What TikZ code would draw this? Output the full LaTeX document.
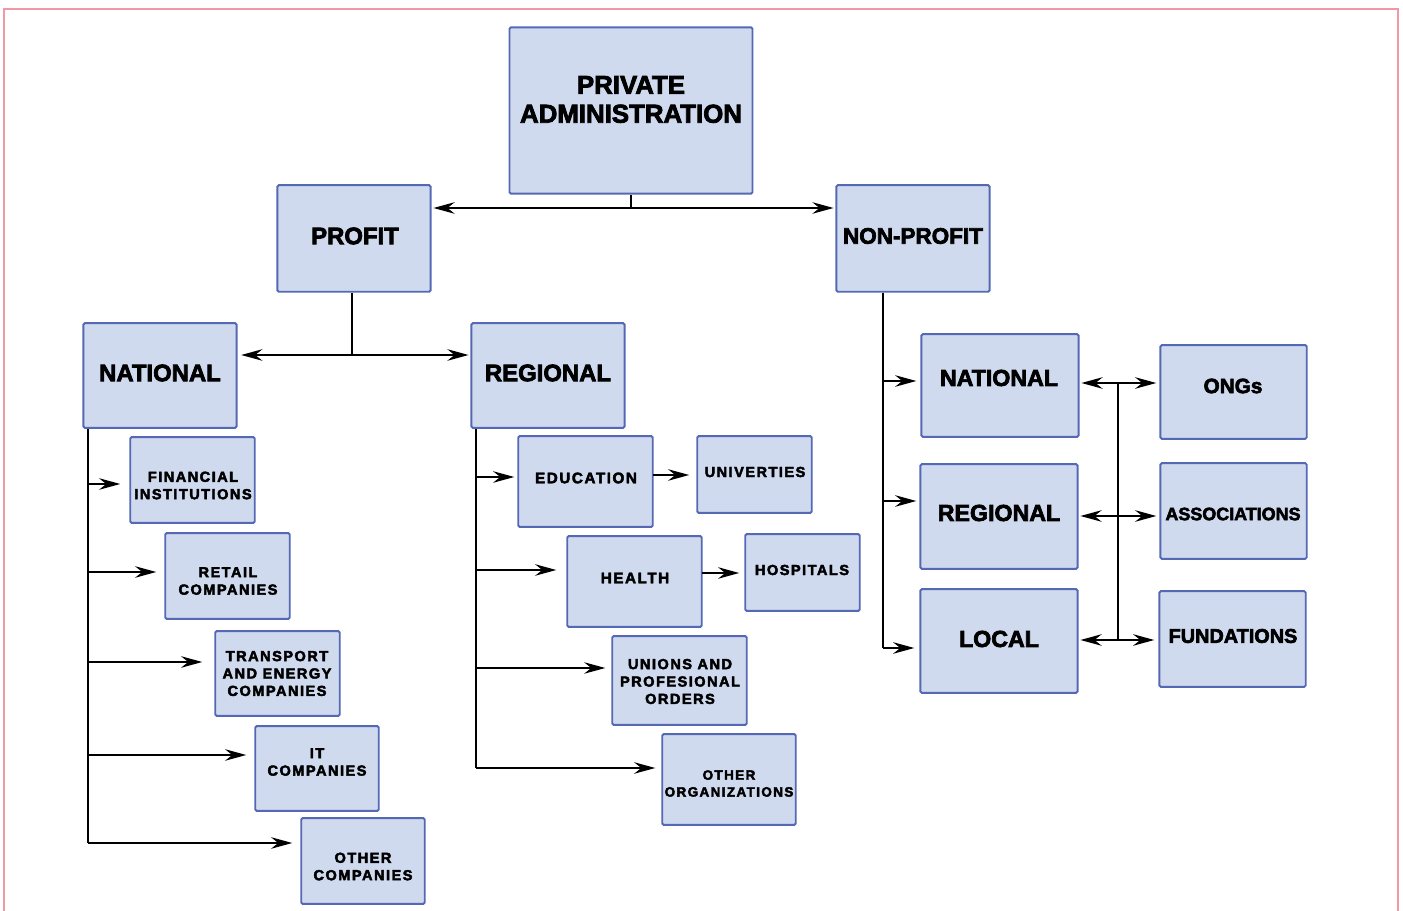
\documentclass[tikz,border=0pt]{standalone}
\usepackage{fontspec}
\setmainfont{Liberation Sans}
\newfontfamily\hv{Liberation Sans}[BoldFeatures={FakeBold=3}]
\newfontfamily\hvs{Liberation Sans}[LetterSpace=10,BoldFeatures={FakeBold=3}]
\usetikzlibrary{arrows.meta}
\definecolor{boxfill}{RGB}{207,218,238}
\definecolor{boxline}{RGB}{84,104,180}
\definecolor{framecol}{RGB}{240,152,164}
\tikzset{
  box/.style={draw=boxline, fill=boxfill, line width=1.1pt, inner sep=0pt, rounded corners=0.8pt},
  big/.style={font=\hv\bfseries\fontsize{14.7pt}{16.4pt}\selectfont, align=center, inner sep=0pt},
  mid/.style={font=\hv\bfseries\fontsize{13.2pt}{15pt}\selectfont, align=center, inner sep=0pt},
  rt/.style={font=\hv\bfseries\fontsize{10.2pt}{12pt}\selectfont, align=center, inner sep=0pt},
  sm/.style={font=\hvs\bfseries\fontsize{8.3pt}{9.9pt}\selectfont, align=center, inner sep=0pt},
  conn/.style={line width=1.5pt, black},
  tip/.tip={Stealth[length=12pt,width=6.5pt,inset=4pt]},
  arr/.style={conn, -tip},
  arrb/.style={conn, tip-tip},
}
\newcommand\bx[5]{\node[box, minimum width={(#4-#2)*0.5669pt}, minimum height={(#5-#3)*0.5669pt}] (#1) at ({(#2+#4)/2},{(#3+#5)/2}) {};}
\begin{document}
\begin{tikzpicture}[x=0.02cm,y=-0.02cm]
\useasboundingbox (0,0) rectangle (1403,911);
\draw[framecol, line width=1.2pt] (4,911) -- (4,9) -- (1398,9) -- (1398,911);

% boxes
\bx{pad}{509}{27}{753}{194}
\bx{profit}{277}{185}{431}{292}
\bx{nonprofit}{836}{185}{990}{292}
\bx{pnat}{83}{323}{237}{428}
\bx{preg}{471}{323}{625}{428}
\bx{fin}{130}{437}{255}{523}
\bx{retail}{165}{533}{290}{619}
\bx{trans}{215}{631}{340}{716}
\bx{it}{255}{726}{379}{811}
\bx{oth}{301}{818}{425}{904}
\bx{edu}{518}{436}{653}{527}
\bx{uni}{697}{436}{812}{513}
\bx{health}{567}{536}{702}{627}
\bx{hosp}{745}{534}{860}{611}
\bx{unions}{612}{636}{747}{725}
\bx{othorg}{662}{734}{796}{825}
\bx{nnat}{921}{334}{1079}{437}
\bx{nreg}{920}{464}{1078}{569}
\bx{local}{920}{589}{1078}{693}
\bx{ongs}{1160}{345}{1307}{439}
\bx{assoc}{1160}{463}{1307}{559}
\bx{fund}{1159}{591}{1306}{687}

% texts
\node[big] (t-pad) at (631,99.5) {PRIVATE\\ADMINISTRATION};
\node[mid, font=\hv\bfseries\fontsize{13.6pt}{15pt}\selectfont] (t-profit) at (355,236) {PROFIT};
\node[mid, font=\hv\bfseries\fontsize{12.8pt}{15pt}\selectfont] (t-nonprofit) at (913,236) {NON-PROFIT};
\node[mid, font=\hv\bfseries\fontsize{13.6pt}{15pt}\selectfont] (t-pnat) at (160,373) {NATIONAL};
\node[mid, font=\hv\bfseries\fontsize{13.6pt}{15pt}\selectfont] (t-preg) at (548,373) {REGIONAL};
\node[mid] (t-nnat) at (999,378) {NATIONAL};
\node[mid] (t-nreg) at (999,513) {REGIONAL};
\node[mid] (t-local) at (999,639) {LOCAL};
\node[rt, font=\hv\bfseries\fontsize{11.8pt}{12pt}\selectfont] (t-ongs) at (1233,386) {ONGs};
\node[rt] (t-assoc) at (1233,514) {ASSOCIATIONS};
\node[rt, font=\hv\bfseries\fontsize{11.3pt}{12pt}\selectfont] (t-fund) at (1233,636) {FUNDATIONS};
\node[sm] (t-fin) at (193,485.5) {FINANCIAL\\INSTITUTIONS};
\node[sm] (t-retail) at (228,581) {RETAIL\\COMPANIES};
\node[sm] (t-trans) at (277,673.5) {TRANSPORT\\AND ENERGY\\COMPANIES};
\node[sm] (t-it) at (317,762) {IT\\COMPANIES};
\node[sm] (t-oth) at (363,866.5) {OTHER\\COMPANIES};
\node[sm, font=\hvs\bfseries\fontsize{8.7pt}{9.9pt}\selectfont] (t-edu) at (586,478) {EDUCATION};
\node[sm] (t-uni) at (755,472) {UNIVERTIES};
\node[sm, font=\hvs\bfseries\fontsize{8.7pt}{9.9pt}\selectfont] (t-health) at (635,578) {HEALTH};
\node[sm] (t-hosp) at (802,570) {HOSPITALS};
\node[sm] (t-unions) at (680,681.5) {UNIONS AND\\PROFESIONAL\\ORDERS};
\node[sm, font=\hvs\bfseries\fontsize{7.7pt}{9.6pt}\selectfont] (t-othorg) at (729,783.5) {OTHER\\ORGANIZATIONS};

% top connectors
\coordinate (j1) at (631,208);
\draw[conn] (pad.south) -- (j1);
\draw[arr, shorten >=1pt] (j1) -- (j1 -| profit.east);
\draw[arr, shorten >=1pt] (j1) -- (j1 -| nonprofit.west);

% profit split
\coordinate (pj) at (352,355);
\draw[conn] (pj |- profit.south) -- (pj);
\draw[arr, shorten >=2pt] (pj) -- (pj -| pnat.east);
\draw[arr, shorten >=1pt] (pj) -- (pj -| preg.west);

% profit national trunk
\coordinate (lt) at (88,843);
\draw[conn] (lt |- pnat.south) -- (lt);
\coordinate (l1) at (88,484);
\coordinate (l2) at (88,572);
\coordinate (l3) at (88,662);
\coordinate (l4) at (88,755);
\draw[arr, shorten >=0.18cm] (l1) -- (l1 -| fin.west);
\draw[arr, shorten >=0.16cm] (l2) -- (l2 -| retail.west);
\draw[arr, shorten >=0.24cm] (l3) -- (l3 -| trans.west);
\draw[arr, shorten >=0.16cm] (l4) -- (l4 -| it.west);
\draw[arr, shorten >=0.16cm] (lt) -- (lt -| oth.west);

% profit regional trunk
\coordinate (rtk) at (476,768);
\draw[conn] (rtk |- preg.south) -- (rtk);
\coordinate (r1) at (476,477);
\coordinate (r2) at (476,570);
\coordinate (r3) at (476,668);
\draw[arr, shorten >=0.06cm] (r1) -- (r1 -| edu.west);
\draw[arr, shorten >=0.2cm] (r2) -- (r2 -| health.west);
\draw[arr, line width=0.8pt, shorten >=0.12cm] (r3) -- (r3 -| unions.west);
\draw[arr, shorten >=0.12cm] (rtk) -- (rtk -| othorg.west);
\coordinate (eu) at (653,475);
\draw[arr, shorten >=0.14cm] (eu) -- (eu -| uni.west);
\coordinate (hh) at (702,573);
\draw[arr, shorten >=0.1cm] (hh) -- (hh -| hosp.west);

% non-profit trunk
\coordinate (nt) at (883,648);
\draw[conn] (nt |- nonprofit.south) -- (nt);
\coordinate (n1) at (883,381);
\coordinate (n2) at (883,501);
\draw[arr, shorten >=0.08cm] (n1) -- (n1 -| nnat.west);
\draw[arr, shorten >=0.06cm] (n2) -- (n2 -| nreg.west);
\draw[arr, shorten >=0.1cm] (nt) -- (nt -| local.west);

% right bus
\coordinate (bt) at (1118,383);
\coordinate (bm) at (1118,516);
\coordinate (bb) at (1118,640);
\draw[conn] (bt) -- (bb);
\draw[arrb, shorten <=1pt, shorten >=0.06cm] (bt -| nnat.east) -- (bt -| ongs.west);
\draw[arrb, shorten <=1pt, shorten >=0.06cm] (bm -| nreg.east) -- (bm -| assoc.west);
\draw[arrb, shorten <=1pt, shorten >=0.08cm] (bb -| local.east) -- (bb -| fund.west);
\end{tikzpicture}
\end{document}
